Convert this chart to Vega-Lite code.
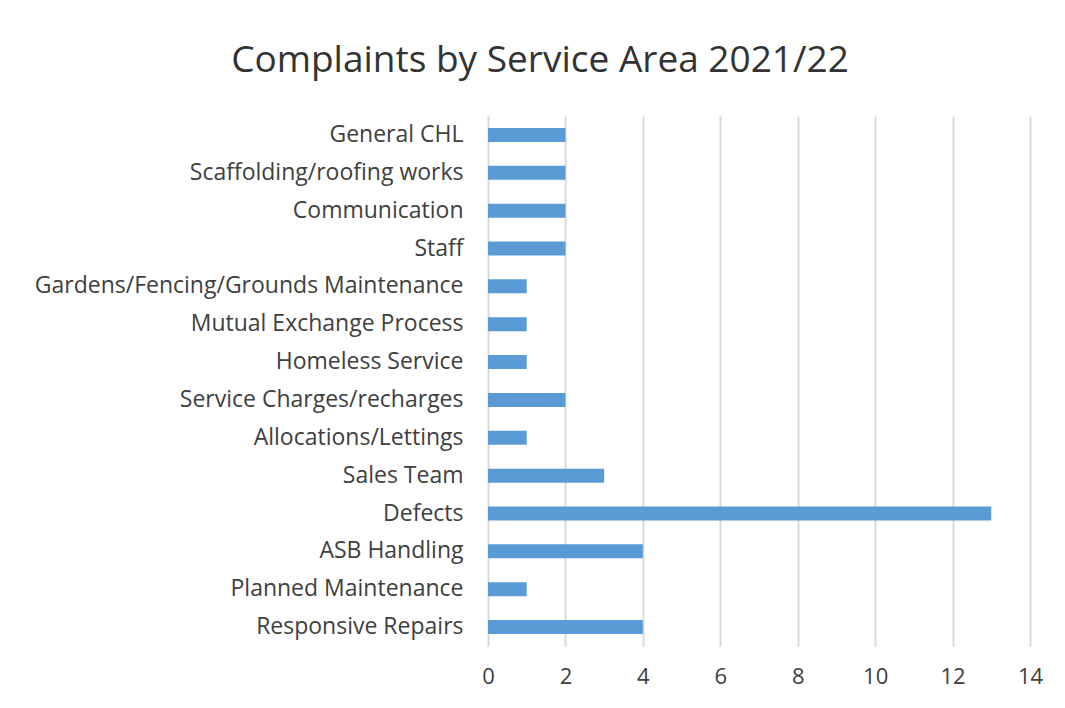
{
  "$schema": "https://vega.github.io/schema/vega-lite/v6.json",
  "autosize": "none",
  "width": 542,
  "height": 530,
  "padding": {"left": 488, "top": 116, "right": 35, "bottom": 62},
  "background": "white",
  "title": {
    "text": "Complaints by Service Area 2021/22",
    "font": "Open Sans",
    "fontSize": 37,
    "fontWeight": "normal",
    "color": "#333333",
    "anchor": "middle",
    "dx": -219,
    "offset": 36
  },
  "data": {
    "values": [
      {"area": "General CHL", "count": 2},
      {"area": "Scaffolding/roofing works", "count": 2},
      {"area": "Communication", "count": 2},
      {"area": "Staff", "count": 2},
      {"area": "Gardens/Fencing/Grounds Maintenance", "count": 1},
      {"area": "Mutual Exchange Process", "count": 1},
      {"area": "Homeless Service", "count": 1},
      {"area": "Service Charges/recharges", "count": 2},
      {"area": "Allocations/Lettings", "count": 1},
      {"area": "Sales Team", "count": 3},
      {"area": "Defects", "count": 13},
      {"area": "ASB Handling", "count": 4},
      {"area": "Planned Maintenance", "count": 1},
      {"area": "Responsive Repairs", "count": 4}
    ]
  },
  "mark": {"type": "bar", "color": "#5b9bd5"},
  "encoding": {
    "y": {
      "field": "area",
      "type": "nominal",
      "sort": null,
      "scale": {"paddingInner": 0.63, "paddingOuter": 0.315},
      "axis": {
        "title": null,
        "domain": false,
        "ticks": false,
        "grid": false,
        "labelFont": "Open Sans",
        "labelFontSize": 23,
        "labelColor": "#404040",
        "labelPadding": 25,
        "labelLimit": 500
      }
    },
    "x": {
      "field": "count",
      "type": "quantitative",
      "scale": {"domain": [0, 14], "nice": false},
      "axis": {
        "title": null,
        "values": [0, 2, 4, 6, 8, 10, 12, 14],
        "domain": false,
        "ticks": false,
        "grid": true,
        "gridColor": "#d9d9d9",
        "gridWidth": 2,
        "labelFlush": false,
        "labelFont": "Open Sans",
        "labelFontSize": 22,
        "labelColor": "#404040",
        "labelPadding": 20
      }
    }
  },
  "config": {"view": {"stroke": null}}
}
